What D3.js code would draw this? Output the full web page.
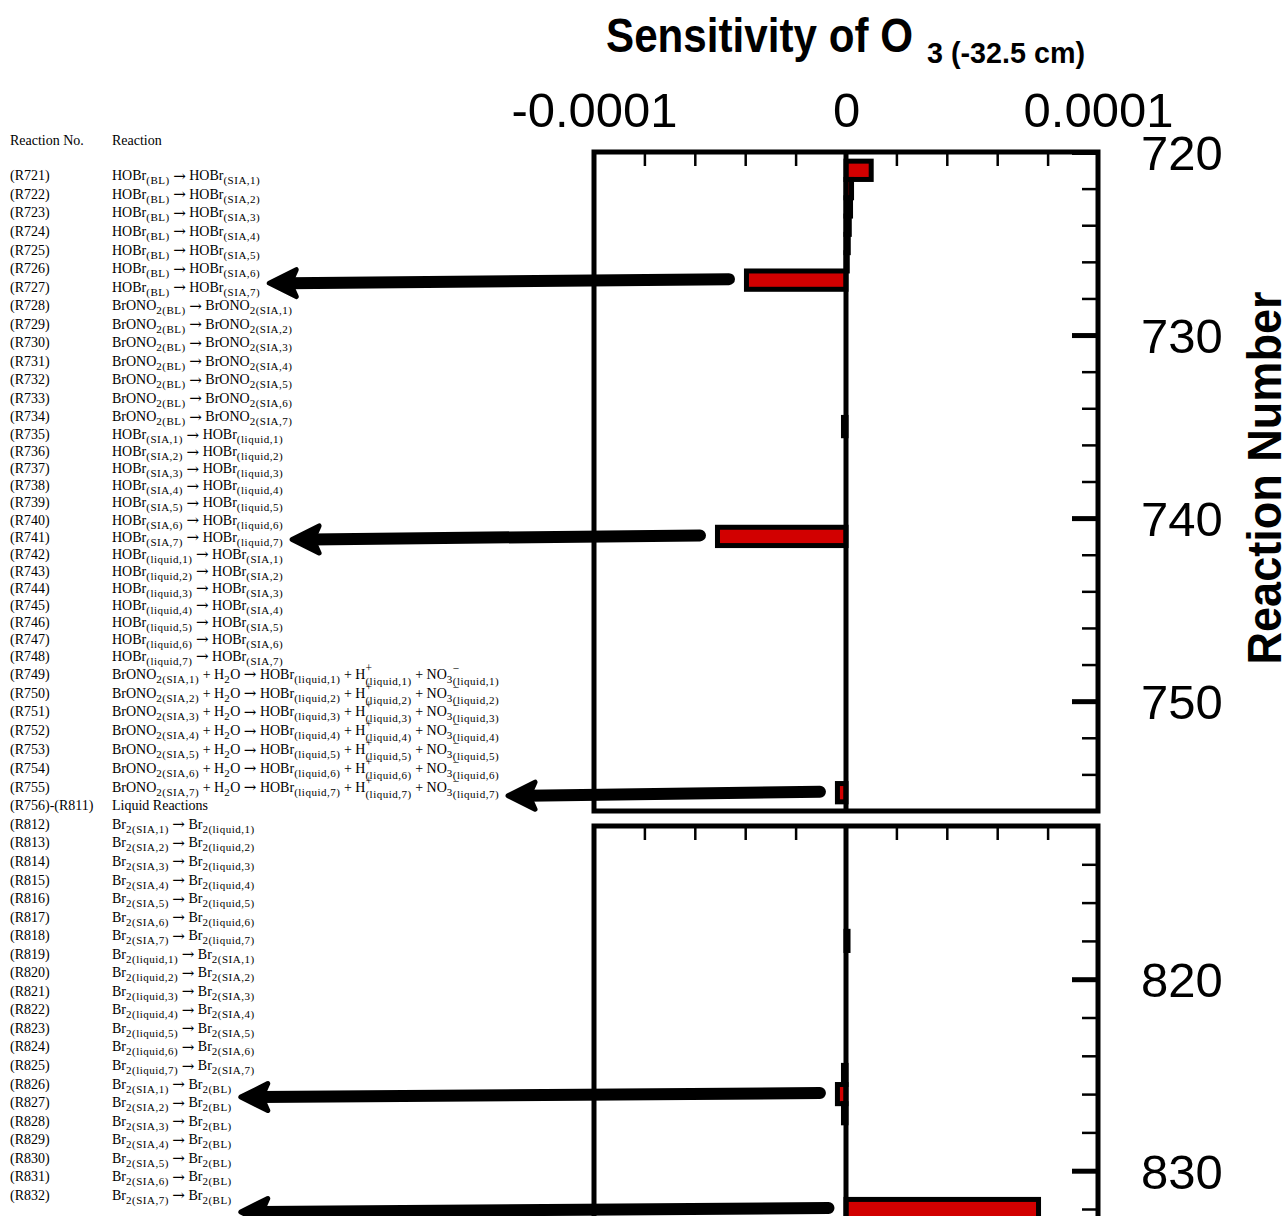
<!DOCTYPE html>
<html>
<head>
<meta charset="utf-8">
<script src="https://cdn.jsdelivr.net/npm/d3@7"></script>
<style>
  body { margin: 0; background: #fff; }
  svg { display: block; }
  .f-main { font-family: "Liberation Serif", "Times New Roman", serif; font-size: 14px; }
  .f-arrow { font-family: "DejaVu Serif", serif; font-size: 15px; }
  .f-sub  { font-family: "Liberation Serif", "Times New Roman", serif; font-size: 11px; letter-spacing: 0.5px; }
  .f-sup  { font-family: "Liberation Serif", "Times New Roman", serif; font-size: 11.5px; }
  .ax text { font-family: "Liberation Sans", Arial, sans-serif; font-size: 49px; fill: #000; }
</style>
</head>
<body>
<div id="chart"></div>
<script>

// bars in the upper panel (reactions 721-755) and the lower panel (812-832)
var topReactions = [721, 722, 723, 724, 725, 726, 727, 728, 729, 730, 731, 732, 733, 734, 735, 736, 737, 738,
                    739, 740, 741, 742, 743, 744, 745, 746, 747, 748, 749, 750, 751, 752, 753, 754, 755];
var topValues = [1.0e-5, 2.2e-6, 1.8e-6, 1.3e-6, 0.9e-6, 0.5e-6, -3.95e-5, 0, 0, 0, 0, 0, 0, 0, -1.0e-6, 0, 0, 0,
                 0, 0, -5.1e-5, 0, 0, 0, 0, 0, 0, 0, 0, 0, 0, 0, 0, 0, -3.4e-6];
var bottomReactions = [812, 813, 814, 815, 816, 817, 818, 819, 820, 821, 822, 823, 824, 825, 826, 827, 828, 829, 830, 831, 832];
var bottomValues = [0, 0, 0, 0, 0, 0, 0.8e-6, 0, 0, 0, 0, 0, 0, -1.0e-6, -3.4e-6, -1.0e-6, 0, 0, 0, 0, 7.64e-5];

// axis ticks
var xLabelTicks = [-1e-4, 0, 1e-4];
var xMinorTicks = [-1e-4, -8e-5, -6e-5, -4e-5, -2e-5, 0, 2e-5, 4e-5, 6e-5, 8e-5, 1e-4];
var topMajorTicks = [720, 730, 740, 750];
var topMinorTicks = [722, 724, 726, 728, 732, 734, 736, 738, 742, 744, 746, 748, 752, 754];
var bottomMajorTicks = [820, 830];
var bottomMinorTicks = [814, 816, 818, 822, 824, 826, 828, 832, 834];

// reactions picked out with arrows
var arrowReactions = [727, 741, 755, 826, 832];

// reaction table on the left
var rowIds = ["(R721)", "(R722)", "(R723)", "(R724)", "(R725)", "(R726)", "(R727)",
  "(R728)", "(R729)", "(R730)", "(R731)", "(R732)", "(R733)", "(R734)",
  "(R735)", "(R736)", "(R737)", "(R738)", "(R739)", "(R740)", "(R741)",
  "(R742)", "(R743)", "(R744)", "(R745)", "(R746)", "(R747)", "(R748)",
  "(R749)", "(R750)", "(R751)", "(R752)", "(R753)", "(R754)", "(R755)",
  "(R756)-(R811)",
  "(R812)", "(R813)", "(R814)", "(R815)", "(R816)", "(R817)", "(R818)",
  "(R819)", "(R820)", "(R821)", "(R822)", "(R823)", "(R824)", "(R825)",
  "(R826)", "(R827)", "(R828)", "(R829)", "(R830)", "(R831)", "(R832)"];
var rowFormulas = [
  "HOBr_{(BL)} → HOBr_{(SIA,1)}", "HOBr_{(BL)} → HOBr_{(SIA,2)}", "HOBr_{(BL)} → HOBr_{(SIA,3)}",
  "HOBr_{(BL)} → HOBr_{(SIA,4)}", "HOBr_{(BL)} → HOBr_{(SIA,5)}", "HOBr_{(BL)} → HOBr_{(SIA,6)}",
  "HOBr_{(BL)} → HOBr_{(SIA,7)}",
  "BrONO_{2(BL)} → BrONO_{2(SIA,1)}", "BrONO_{2(BL)} → BrONO_{2(SIA,2)}", "BrONO_{2(BL)} → BrONO_{2(SIA,3)}",
  "BrONO_{2(BL)} → BrONO_{2(SIA,4)}", "BrONO_{2(BL)} → BrONO_{2(SIA,5)}", "BrONO_{2(BL)} → BrONO_{2(SIA,6)}",
  "BrONO_{2(BL)} → BrONO_{2(SIA,7)}",
  "HOBr_{(SIA,1)} → HOBr_{(liquid,1)}", "HOBr_{(SIA,2)} → HOBr_{(liquid,2)}", "HOBr_{(SIA,3)} → HOBr_{(liquid,3)}",
  "HOBr_{(SIA,4)} → HOBr_{(liquid,4)}", "HOBr_{(SIA,5)} → HOBr_{(liquid,5)}", "HOBr_{(SIA,6)} → HOBr_{(liquid,6)}",
  "HOBr_{(SIA,7)} → HOBr_{(liquid,7)}",
  "HOBr_{(liquid,1)} → HOBr_{(SIA,1)}", "HOBr_{(liquid,2)} → HOBr_{(SIA,2)}", "HOBr_{(liquid,3)} → HOBr_{(SIA,3)}",
  "HOBr_{(liquid,4)} → HOBr_{(SIA,4)}", "HOBr_{(liquid,5)} → HOBr_{(SIA,5)}", "HOBr_{(liquid,6)} → HOBr_{(SIA,6)}",
  "HOBr_{(liquid,7)} → HOBr_{(SIA,7)}",
  "BrONO_{2(SIA,1)} + H_{2}O → HOBr_{(liquid,1)} + H^{+}_{(liquid,1)} + NO_{3}^{−}_{(liquid,1)}",
  "BrONO_{2(SIA,2)} + H_{2}O → HOBr_{(liquid,2)} + H^{+}_{(liquid,2)} + NO_{3}^{−}_{(liquid,2)}",
  "BrONO_{2(SIA,3)} + H_{2}O → HOBr_{(liquid,3)} + H^{+}_{(liquid,3)} + NO_{3}^{−}_{(liquid,3)}",
  "BrONO_{2(SIA,4)} + H_{2}O → HOBr_{(liquid,4)} + H^{+}_{(liquid,4)} + NO_{3}^{−}_{(liquid,4)}",
  "BrONO_{2(SIA,5)} + H_{2}O → HOBr_{(liquid,5)} + H^{+}_{(liquid,5)} + NO_{3}^{−}_{(liquid,5)}",
  "BrONO_{2(SIA,6)} + H_{2}O → HOBr_{(liquid,6)} + H^{+}_{(liquid,6)} + NO_{3}^{−}_{(liquid,6)}",
  "BrONO_{2(SIA,7)} + H_{2}O → HOBr_{(liquid,7)} + H^{+}_{(liquid,7)} + NO_{3}^{−}_{(liquid,7)}",
  "Liquid Reactions",
  "Br_{2(SIA,1)} → Br_{2(liquid,1)}", "Br_{2(SIA,2)} → Br_{2(liquid,2)}", "Br_{2(SIA,3)} → Br_{2(liquid,3)}",
  "Br_{2(SIA,4)} → Br_{2(liquid,4)}", "Br_{2(SIA,5)} → Br_{2(liquid,5)}", "Br_{2(SIA,6)} → Br_{2(liquid,6)}",
  "Br_{2(SIA,7)} → Br_{2(liquid,7)}",
  "Br_{2(liquid,1)} → Br_{2(SIA,1)}", "Br_{2(liquid,2)} → Br_{2(SIA,2)}", "Br_{2(liquid,3)} → Br_{2(SIA,3)}",
  "Br_{2(liquid,4)} → Br_{2(SIA,4)}", "Br_{2(liquid,5)} → Br_{2(SIA,5)}", "Br_{2(liquid,6)} → Br_{2(SIA,6)}",
  "Br_{2(liquid,7)} → Br_{2(SIA,7)}",
  "Br_{2(SIA,1)} → Br_{2(BL)}", "Br_{2(SIA,2)} → Br_{2(BL)}", "Br_{2(SIA,3)} → Br_{2(BL)}",
  "Br_{2(SIA,4)} → Br_{2(BL)}", "Br_{2(SIA,5)} → Br_{2(BL)}", "Br_{2(SIA,6)} → Br_{2(BL)}",
  "Br_{2(SIA,7)} → Br_{2(BL)}"];

var W = 1285, H = 1216;
var svg = d3.select("#chart").append("svg")
    .attr("width", W)
    .attr("height", H);

// scales: same x for both panels, the lower panel is a little taller per reaction
var x = d3.scaleLinear().domain([-1e-4, 1e-4]).range([594, 1098]);
var yTop = d3.scaleLinear().domain([720, 756]).range([152, 811]);
var yBot = d3.scaleLinear().domain([812, 834]).range([826, 826 + 22 * 19.15]);

var lookup = {};
topReactions.forEach(function(r, i) { lookup[r] = {v: topValues[i], y: yTop}; });
bottomReactions.forEach(function(r, i) { lookup[r] = {v: bottomValues[i], y: yBot}; });

function drawPanel(reactions, values, y, majors, minors) {
  var g = svg.append("g");
  var y0 = y.range()[0], y1 = y.range()[1];

  // bars
  g.selectAll("rect.bar")
    .data(reactions.map(function(r, i) { return {r: r, v: values[i]}; }).filter(function(d) { return d.v !== 0; }))
    .enter().append("rect")
      .attr("class", "bar")
      .attr("x", function(d) { return x(Math.min(0, d.v)); })
      .attr("width", function(d) { return Math.abs(x(d.v) - x(0)); })
      .attr("y", function(d) { return y(d.r - 0.5); })
      .attr("height", function(d) { return y(d.r + 0.5) - y(d.r - 0.5); })
      .style("fill", "#d20000")
      .style("stroke", "#000")
      .style("stroke-width", 5);

  // zero line
  g.append("line")
    .attr("x1", x(0)).attr("x2", x(0))
    .attr("y1", y0).attr("y2", y1)
    .style("stroke", "#000").style("stroke-width", 5);

  // ticks along the top edge, pointing in
  var tx = g.append("g").attr("class", "ax")
    .attr("transform", "translate(0," + y0 + ")")
    .call(d3.axisBottom(x).tickValues(xMinorTicks).tickSize(14).tickFormat(""));
  tx.select(".domain").remove();
  tx.selectAll("line").style("stroke-width", 2.5);

  // ticks along the right edge, pointing in
  var tMin = g.append("g").attr("class", "ax")
    .attr("transform", "translate(" + x.range()[1] + ",0)")
    .call(d3.axisLeft(y).tickValues(minors).tickSize(16).tickFormat(""));
  tMin.select(".domain").remove();
  tMin.selectAll("line").style("stroke-width", 2.5);

  var tMaj = g.append("g").attr("class", "ax")
    .attr("transform", "translate(" + x.range()[1] + ",0)")
    .call(d3.axisLeft(y).tickValues(majors).tickSize(26).tickFormat(""));
  tMaj.select(".domain").remove();
  tMaj.selectAll("line").style("stroke-width", 5);

  // reaction number labels
  var lab = g.append("g").attr("class", "ax")
    .attr("transform", "translate(1141,0)")
    .call(d3.axisRight(y).tickValues(majors).tickSize(0).tickPadding(0).tickFormat(d3.format("d")));
  lab.select(".domain").remove();
  lab.selectAll("text").attr("dy", "0.36em");

  // frame
  g.append("rect")
    .attr("x", x.range()[0]).attr("y", y0)
    .attr("width", x.range()[1] - x.range()[0])
    .attr("height", y1 - y0)
    .style("fill", "none").style("stroke", "#000").style("stroke-width", 5);
}

drawPanel(topReactions, topValues, yTop, topMajorTicks, topMinorTicks);
drawPanel(bottomReactions, bottomValues, yBot, bottomMajorTicks, bottomMinorTicks);

// x tick labels above the upper panel
var xl = svg.append("g").attr("class", "ax")
  .attr("transform", "translate(0,127)")
  .call(d3.axisTop(x).tickValues(xLabelTicks).tickSize(0).tickPadding(0)
    .tickFormat(function(d) { return d === 0 ? "0" : (d < 0 ? "-" : "") + Math.abs(d).toFixed(4); }));
xl.select(".domain").remove();

// title
svg.append("text")
  .attr("x", 606).attr("y", 52)
  .attr("textLength", 307).attr("lengthAdjust", "spacingAndGlyphs")
  .style("font-family", "'Liberation Sans', Arial, sans-serif")
  .style("font-weight", "bold").style("font-size", "49px")
  .text("Sensitivity of O");
svg.append("text")
  .attr("x", 927).attr("y", 63)
  .attr("textLength", 158).attr("lengthAdjust", "spacingAndGlyphs")
  .style("font-family", "'Liberation Sans', Arial, sans-serif")
  .style("font-weight", "bold").style("font-size", "29px")
  .text("3 (-32.5 cm)");

// y axis title (runs off the right edge, as in the original)
svg.append("text")
  .attr("transform", "translate(1281,478) rotate(-90)")
  .attr("text-anchor", "middle")
  .attr("textLength", 373).attr("lengthAdjust", "spacingAndGlyphs")
  .style("font-family", "'Liberation Sans', Arial, sans-serif")
  .style("font-weight", "bold").style("font-size", "49px")
  .text("Reaction Number");

// ---- reaction table ----
function drawFormula(g, str, x0, base) {
  var toks = [], m, re = /_\{([^}]*)\}|\^\{([^}]*)\}|([^_^]+)/g;
  while ((m = re.exec(str))) {
    if (m[1] !== undefined) toks.push({k: "sub", t: m[1]});
    else if (m[2] !== undefined) toks.push({k: "sup", t: m[2]});
    else m[3].split(/\s*(→|\+)\s*/).forEach(function(p) {
      if (!p) return;
      toks.push({k: (p === "→" || p === "+") ? "op" : "main", t: p});
    });
  }
  var cx = x0;
  function put(t, cls, dy) {
    var el = g.append("text").attr("class", cls).attr("x", cx).attr("y", base + dy).text(t);
    return el.node().getComputedTextLength();
  }
  for (var i = 0; i < toks.length; i++) {
    var tk = toks[i];
    if (tk.k === "main") cx += put(tk.t, "f-main", 0);
    else if (tk.k === "op") {
      cx += 3.5;
      cx += tk.t === "→" ? put(tk.t, "f-arrow", 0.5) : put(tk.t, "f-main", 0);
      cx += 3.5;
    }
    else if (tk.k === "sub") cx += put(tk.t, "f-sub", 4);
    else {
      // superscript stacked over the following subscript
      var w = put(tk.t, "f-sup", -7);
      if (toks[i + 1] && toks[i + 1].k === "sub") {
        w = Math.max(w, put(toks[i + 1].t, "f-sub", 6));
        i++;
      }
      cx += w;
    }
  }
  return cx;
}

// row height depends on how tall the formula is
function rowHeight(i) {
  var n = parseInt(rowIds[i].slice(2), 10);
  if (n >= 735 && n <= 748) return 17.05;
  if (n >= 749 && n <= 755) return 18.8;
  return 18.55;
}

var table = svg.append("g");
table.append("text").attr("class", "f-main").attr("x", 10).attr("y", 145).text("Reaction No.");
table.append("text").attr("class", "f-main").attr("x", 112).attr("y", 145).text("Reaction");

var rowY = [], rowEnd = [];
var cy = 176.3;
rowIds.forEach(function(id, i) {
  if (i > 0) cy += (rowHeight(i - 1) + rowHeight(i)) / 2;
  rowY.push(cy);
  table.append("text").attr("class", "f-main").attr("x", 10).attr("y", cy + 4).text(id);
  rowEnd.push(drawFormula(table, rowFormulas[i], 112, cy + 4));
});

// ---- arrows from the bars to the reactions ----
var arrows = svg.append("g");
arrowReactions.forEach(function(r) {
  var d = lookup[r];
  var barY = d.y(r);
  var tailX = Math.min(x(d.v), x(0)) - 2.5 - 9 - 6;
  var tipX = rowEnd[rowIds.indexOf("(R" + r + ")")] + 6;
  var tailY = barY - 1;
  var tipY = barY + 3;
  arrows.append("line")
    .attr("x1", tipX + 22).attr("y1", tipY)
    .attr("x2", tailX).attr("y2", tailY)
    .style("stroke", "#000").style("stroke-width", 12).style("stroke-linecap", "round");
  arrows.append("path")
    .attr("d", "M" + (tipX + 3) + "," + tipY +
               "L" + (tipX + 30) + "," + (tipY - 13.5) +
               "L" + (tipX + 24) + "," + tipY +
               "L" + (tipX + 30) + "," + (tipY + 13.5) + "Z")
    .style("fill", "#000").style("stroke", "#000")
    .style("stroke-width", 5).style("stroke-linejoin", "round");
});

</script>
</body>
</html>
